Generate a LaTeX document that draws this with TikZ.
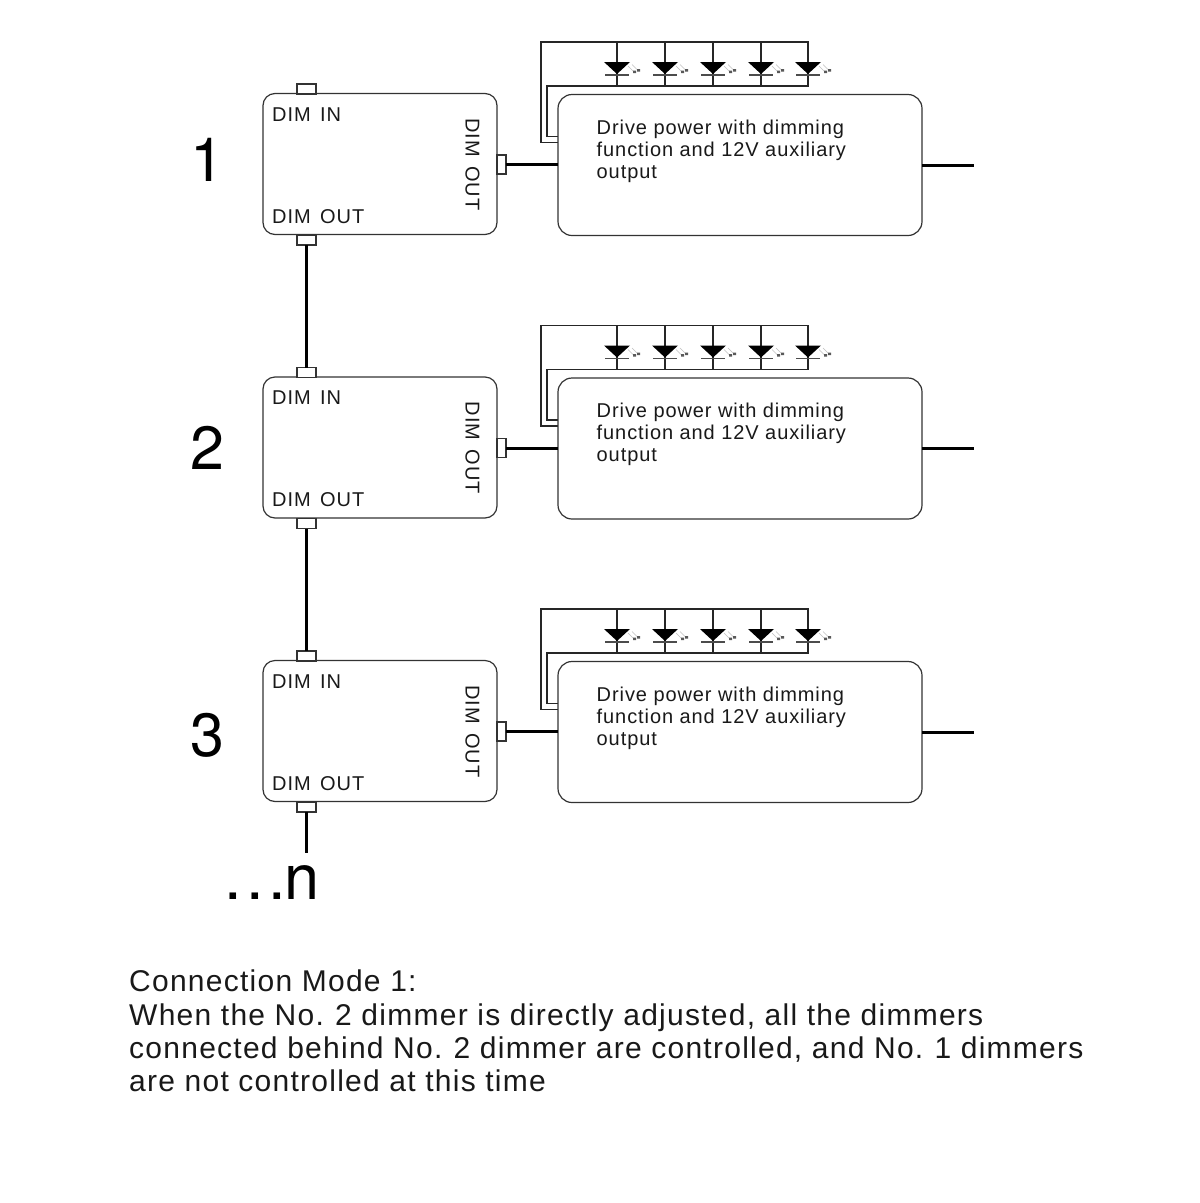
\documentclass[tikz,border=0pt]{standalone}
\usepackage{fontspec}
\setmainfont{Liberation Sans}[LetterSpace=4.6]
\newfontfamily\capfont{Liberation Sans}[LetterSpace=4.2]
\newfontfamily\numfont{TeX Gyre Heros}
\tikzset{
 x=1pt,y=-1pt,
 wire/.style={draw=black!85,line width=1.3pt},
 thick wire/.style={draw=black,line width=3pt},
 boxln/.style={draw=black!80,line width=1.2pt,fill=white},
 dimbox/.style={boxln,rounded corners=12pt,minimum width=234pt,minimum height=141pt,inner sep=0pt,outer sep=0pt,anchor=north west},
 drvbox/.style={boxln,rounded corners=14pt,minimum width=364pt,minimum height=141pt,inner sep=0pt,outer sep=0pt,anchor=north west},
 tab/.style={boxln,inner sep=0pt,outer sep=0pt,minimum width=19pt,minimum height=10pt},
 rtab/.style={boxln,inner sep=0pt,outer sep=0pt,minimum width=9pt,minimum height=19pt},
 lab/.style={inner sep=0pt,anchor=base west,font=\fontsize{20}{20}\selectfont,text=black!90},
 drvtxt/.style={inner sep=0pt,anchor=base west,font=\fontsize{20}{20}\selectfont,text=black!90},
 bignum/.style={inner sep=0pt,anchor=base,font=\numfont\fontsize{61}{61}\selectfont},
 caption/.style={inner sep=0pt,anchor=base west,font=\capfont\fontsize{30}{30}\selectfont,text=black!90},
}
\begin{document}
\begin{tikzpicture}
\useasboundingbox (0,0) rectangle (1200,1203);
\fill[white] (0,0) rectangle (1200,1203);
\foreach \n/\dy in {1/0,2/283.5,3/567}{
 \begin{scope}[yshift=-\dy pt]
  \coordinate (wo\n) at (558,142.5);
  \coordinate (wi\n) at (558,136.5);
  \coordinate (tl\n) at (541,42);
  \coordinate (tr\n) at (808,42);
  \coordinate (bl\n) at (547,86);
  \coordinate (br\n) at (808,86);
  \draw[wire] (wo\n) -| (tl\n) -- (tr\n) -- (br\n) -- (bl\n) |- (wi\n);
  \foreach \i/\lx in {a/617,b/665,c/713,d/761,e/808}{
   \coordinate (t\n\i) at (\lx,42);
   \coordinate (b\n\i) at (\lx,86);
   \draw[wire] (t\n\i) -- (b\n\i);
   \fill[black] (\lx-13,62) -- (\lx+13,62) -- (\lx,74) -- cycle;
   \draw[black!70,line width=1.6pt] (\lx-12,75) -- (\lx+12,75);
   \draw[black!25,line width=.7pt] (\lx+11,66) -- (\lx+17,72) (\lx+15,64.5) -- (\lx+21,70.5);
   \fill[black!65] (\lx+16,70.5) rectangle (\lx+19,73) (\lx+20,69) rectangle (\lx+23,71.5);
  }
  \node[drvbox] (drv\n) at (558,94.5) {};
  \node[dimbox] (dim\n) at (263,93.5) {};
  \node[tab] (in\n) at (306.5,89) {};
  \node[tab] (out\n) at (306.5,240) {};
  \node[rtab] (rt\n) at (501.5,164.5) {};
  \coordinate (end\n) at (974,165);
  \draw[thick wire] (rt\n.east) -- (rt\n.east -| drv\n.west);
  \draw[thick wire] (drv\n.east |- end\n) -- (end\n);
  \node[lab] (l1\n) at (272,121) {DIM\hspace{9.5pt}IN};
  \node[lab] (l2\n) at (272,223) {DIM\hspace{9.5pt}OUT};
  \node[lab,rotate=-90] (l3\n) at (465.5,118) {DIM\hspace{9.5pt}OUT};
  \node[drvtxt] (d1\n) at (596.5,134) {Drive power with dimming};
  \node[drvtxt] (d2\n) at (596.5,156) {function and 12V auxiliary};
  \node[drvtxt] (d3\n) at (596.5,178) {output};
 \end{scope}
}
\draw[thick wire] (out1.south) -- (in2.north);
\draw[thick wire] (out2.south) -- (in3.north);
\coordinate (tail) at (306.5,853);
\draw[draw=black,line width=2.4pt] (out3.south) -- (tail);
\node[bignum] (n1) at (207,181) {1};
\node[bignum] (n2) at (207,469) {2};
\node[bignum] (n3) at (207.5,756) {3};
\node[inner sep=0pt,anchor=base west,font=\numfont\fontsize{63}{63}\selectfont] (nn) at (224,899) {.\kern4.5pt.\kern4.5pt.\kern-1.5pt n};
\node[caption] (c1) at (129,991) {Connection Mode 1:};
\node[caption] (c2) at (129,1025) {When the No.\kern-1.5pt{} 2 dimmer is directly adjusted, all the dimmers};
\node[caption] (c3) at (129,1058) {connected behind No.\kern-1.5pt{} 2 dimmer are controlled, and No.\kern-1.5pt{} 1 dimmers};
\node[caption] (c4) at (129,1091) {are not controlled at this time};
\end{tikzpicture}
\end{document}
